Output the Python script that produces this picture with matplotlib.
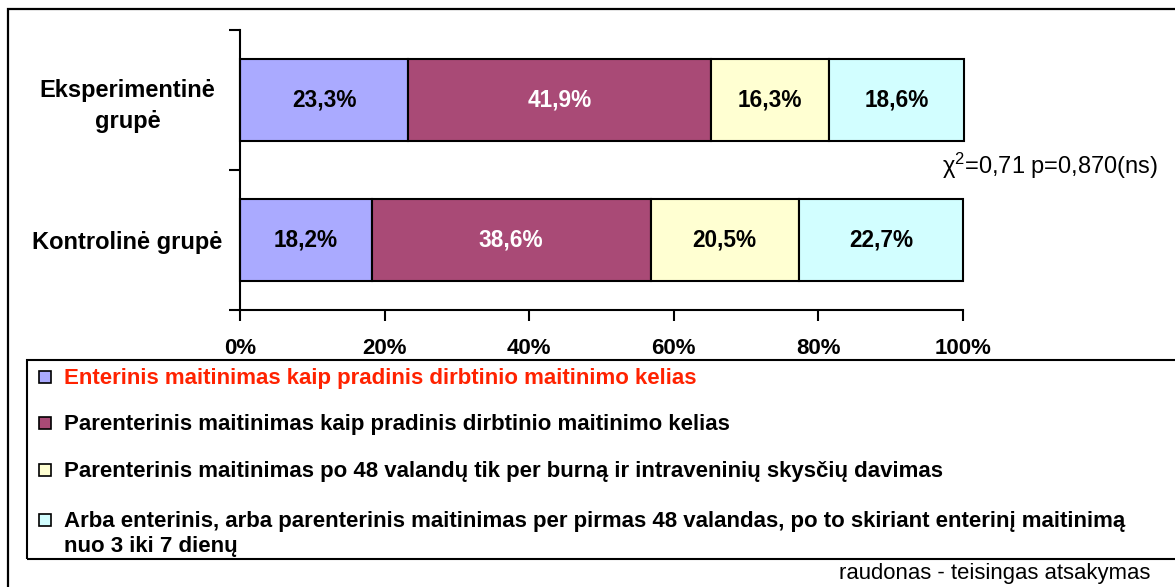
import matplotlib.pyplot as plt
from matplotlib.patches import Rectangle

plt.rcParams['font.family'] = ['Liberation Sans', 'DejaVu Sans']
plt.rcParams['mathtext.fontset'] = 'custom'
plt.rcParams['mathtext.rm'] = 'Liberation Sans'
plt.rcParams['mathtext.it'] = 'Liberation Sans'

groups = ['Kontrolinė grupė', 'Eksperimentinė\ngrupė']
series = [
    'Enterinis maitinimas kaip pradinis dirbtinio maitinimo kelias',
    'Parenterinis maitinimas kaip pradinis dirbtinio maitinimo kelias',
    'Parenterinis maitinimas po 48 valandų tik per burną ir intraveninių skysčių davimas',
    'Arba enterinis, arba parenterinis maitinimas per pirmas 48 valandas, po to skiriant enterinį maitinimą\nnuo 3 iki 7 dienų',
]
values = [
    [18.2, 23.3],
    [38.6, 41.9],
    [20.5, 16.3],
    [22.7, 18.6],
]
labels = [
    ['18,2%', '23,3%'],
    ['38,6%', '41,9%'],
    ['20,5%', '16,3%'],
    ['22,7%', '18,6%'],
]
colors = ['#AAAAFF', '#A94A76', '#FFFFD2', '#D2FEFF']
text_colors = ['black', 'white', 'black', 'black']
legend_colors = ['#FF2200', 'black', 'black', 'black']
xticks = [0, 20, 40, 60, 80, 100]
xticklabels = ['0%', '20%', '40%', '60%', '80%', '100%']
stat_text = 'χ$^2$=0,71 p=0,870(ns)'
note_text = 'raudonas - teisingas atsakymas'

W, H = 1175, 587
fig = plt.figure(figsize=(W / 100, H / 100), dpi=100)

def fx(px):
    return px / W

def fy(py):
    return 1 - py / H

# outer frame (runs off the right and bottom edges)
fig.patches.append(Rectangle((fx(8), fy(600)), 1.2, fy(9) - fy(600),
                             transform=fig.transFigure, fill=False,
                             edgecolor='black', lw=1.6))

ax = fig.add_axes([fx(240), fy(310), fx(963) - fx(240), fy(30) - fy(310)])

left = [0, 0]
for vals, lab, c, tc in zip(values, labels, colors, text_colors):
    bars = ax.barh(range(len(groups)), vals, left=left, height=0.59,
                   color=c, edgecolor='black', lw=1.5, clip_on=False)
    for b, t in zip(bars, lab):
        ax.text(b.get_x() + b.get_width() / 2, b.get_y() + b.get_height() / 2, t,
                ha='center', va='center', color=tc, fontsize=16.3, fontweight='bold')
    left = [l + v for l, v in zip(left, vals)]

ax.set_xlim(0, 100)
ax.set_ylim(-0.5, 1.5)
ax.set_xticks(xticks)
ax.set_xticklabels(xticklabels, fontsize=16, fontweight='bold')
ax.set_yticks(range(len(groups)))
ax.set_yticklabels(groups, fontsize=17, fontweight='bold', ha='center',
                   multialignment='center', linespacing=1.4)
ax.tick_params(axis='y', length=0, pad=81)
ax.set_yticks([-0.5, 0.5, 1.5], minor=True)
ax.tick_params(axis='y', which='minor', length=8, width=1.5)
ax.tick_params(axis='x', length=8, width=1.5, pad=12)
for s in ['top', 'right']:
    ax.spines[s].set_visible(False)
for s in ['left', 'bottom']:
    ax.spines[s].set_linewidth(1.5)

fig.text(fx(1158), fy(166), stat_text, ha='right', va='center', fontsize=17)

# legend box
fig.patches.append(Rectangle((fx(27), fy(559)), 1.2, fy(360) - fy(559),
                             transform=fig.transFigure, fill=False,
                             edgecolor='black', lw=1.5))
rows = [377, 423, 470, 520]
for name, c, tc, r in zip(series, colors, legend_colors, rows):
    fig.patches.append(Rectangle((fx(39), fy(r + 6)), fx(12), fy(r - 6) - fy(r + 6),
                                 transform=fig.transFigure, facecolor=c,
                                 edgecolor='black', lw=1.2))
    fig.text(fx(64), fy(r - 9), name, ha='left', va='top', color=tc,
             fontsize=16, fontweight='bold', linespacing=1.25)

fig.text(fx(1150), fy(574), note_text, ha='right', va='center', fontsize=15.9)

fig.savefig('out.png', dpi=100)
